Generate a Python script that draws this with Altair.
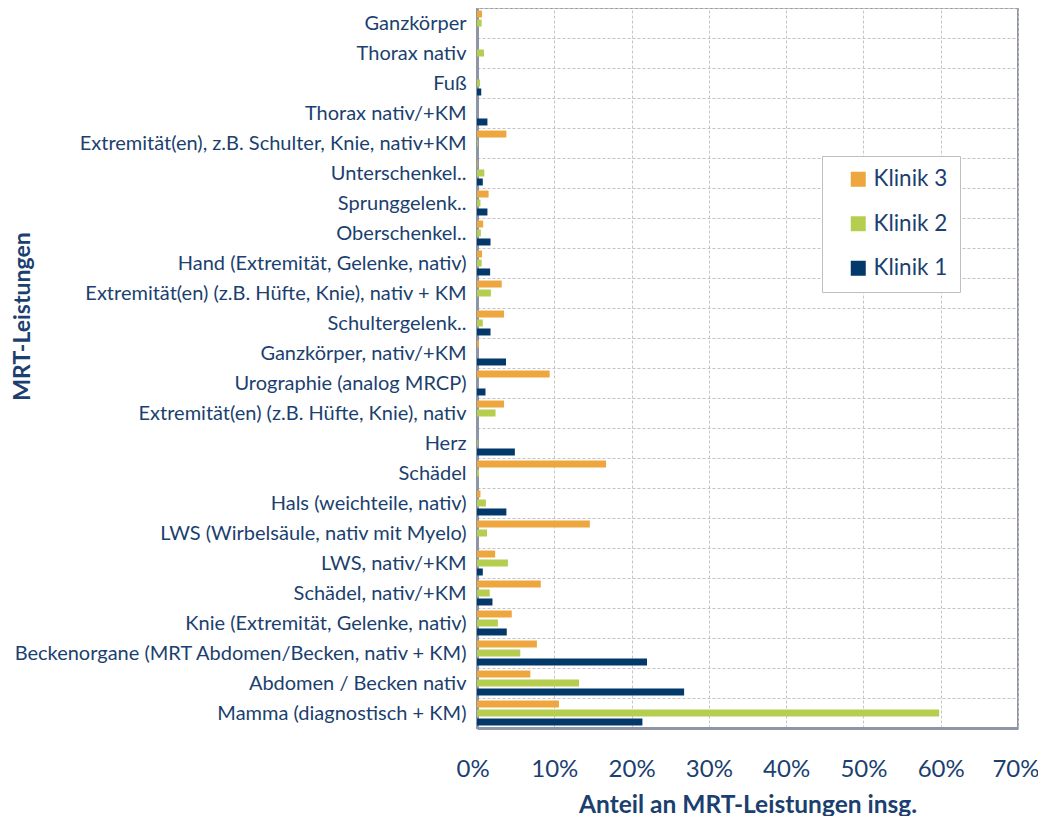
import altair as alt
import pandas as pd

categories = [
    "Ganzkörper",
    "Thorax nativ",
    "Fuß",
    "Thorax nativ/+KM",
    "Extremität(en), z.B. Schulter, Knie, nativ+KM",
    "Unterschenkel..",
    "Sprunggelenk..",
    "Oberschenkel..",
    "Hand (Extremität, Gelenke, nativ)",
    "Extremität(en) (z.B. Hüfte, Knie), nativ + KM",
    "Schultergelenk..",
    "Ganzkörper, nativ/+KM",
    "Urographie (analog MRCP)",
    "Extremität(en) (z.B. Hüfte, Knie), nativ",
    "Herz",
    "Schädel",
    "Hals (weichteile, nativ)",
    "LWS (Wirbelsäule, nativ mit Myelo)",
    "LWS, nativ/+KM",
    "Schädel, nativ/+KM",
    "Knie (Extremität, Gelenke, nativ)",
    "Beckenorgane (MRT Abdomen/Becken, nativ + KM)",
    "Abdomen / Becken nativ",
    "Mamma (diagnostisch + KM)",
]

klinik3 = [0.65, 0.0, 0.0, 0.0, 3.8, 0.1, 1.5, 0.8, 0.65, 3.2, 3.5, 0.25, 9.4, 3.5, 0.0, 16.7,
           0.45, 14.6, 2.35, 8.25, 4.5, 7.75, 6.9, 10.6]
klinik2 = [0.6, 0.9, 0.4, 0.0, 0.1, 0.95, 0.45, 0.5, 0.6, 1.8, 0.75, 0.0, 0.0, 2.4, 0.1, 0.25,
           1.15, 1.3, 4.0, 1.65, 2.7, 5.6, 13.2, 59.8]
klinik1 = [0.0, 0.0, 0.55, 1.35, 0.0, 0.75, 1.35, 1.75, 1.7, 0.0, 1.75, 3.75, 1.1, 0.0, 4.9, 0.0,
           3.8, 0.0, 0.75, 2.0, 3.85, 22.0, 26.8, 21.4]

series = ["Klinik 3", "Klinik 2", "Klinik 1"]
colors = ["#EEA63F", "#B6CE50", "#03386B"]
x_ticks = [0, 10, 20, 30, 40, 50, 60, 70]

rows = []
for i, c in enumerate(categories):
    for s, vals in zip(series, [klinik3, klinik2, klinik1]):
        rows.append({"Leistung": c, "Klinik": s, "Anteil": vals[i] / 100.0})
df = pd.DataFrame(rows)

text_color = "#1B3F6F"
font = "Lato"
nbsp_pad = "\u00a0" * 3

chart = alt.Chart(df).mark_bar().encode(
    y=alt.Y(
        "Leistung:N",
        sort=categories,
        scale=alt.Scale(paddingInner=0, paddingOuter=0),
        axis=alt.Axis(
            title="MRT-Leistungen",
            titleFont=font,
            titleFontSize=23,
            titleFontWeight="bold",
            titleColor=text_color,
            titleAngle=-90,
            titleX=-455,
            titleY=308,
            titleAlign="center",
            titleBaseline="middle",
            labelFont=font,
            labelFontSize=20,
            labelColor=text_color,
            labelLimit=470,
            labelPadding=11,
            ticks=False,
            tickBand="extent",
            grid=True,
            gridColor="#C3C3CB",
            gridDash=[3, 2],
            gridWidth=1,
            domainColor="#8E96A6",
            domainWidth=3,
        ),
    ),
    yOffset=alt.YOffset(
        "Klinik:N",
        sort=series,
        scale=alt.Scale(paddingInner=0.22, paddingOuter=0.28),
    ),
    x=alt.X(
        "Anteil:Q",
        scale=alt.Scale(domain=[0, 0.7], nice=False),
        axis=alt.Axis(
            title="Anteil an MRT-Leistungen insg.",
            titleFont=font,
            titleFontSize=24.5,
            titleFontWeight="bold",
            titleColor=text_color,
            titleY=77,
            titleBaseline="middle",
            values=[v / 100 for v in x_ticks],
            format=".0%",
            labelFont=font,
            labelFontSize=24,
            labelColor=text_color,
            labelPadding=29,
            labelFlush=True,
            labelFlushOffset=21,
            labelOverlap=False,
            ticks=False,
            grid=True,
            gridColor="#C8C4C4",
            gridDash=[3, 2],
            gridWidth=1,
            domainColor="#8E96A6",
            domainWidth=3,
        ),
    ),
    color=alt.Color(
        "Klinik:N",
        scale=alt.Scale(domain=series, range=colors),
        legend=alt.Legend(
            title=None,
            orient="none",
            legendX=345,
            legendY=148,
            labelFont=font,
            labelFontSize=22.5,
            labelColor=text_color,
            labelExpr="datum.label + '" + nbsp_pad + "'",
            symbolType="square",
            symbolSize=225,
            symbolStrokeWidth=0,
            rowPadding=21.5,
            padding=12,
            symbolOffset=13,
            labelOffset=4,
            strokeColor="#BFBFBF",
            fillColor="white",
        ),
    ),
).properties(
    width=541,
    height=720,
    autosize=alt.AutoSizeParams(type="none"),
    padding={"left": 469, "top": 0, "right": 20, "bottom": 88},
).configure_view(
    stroke="#8E96A6",
    strokeWidth=2,
)

chart.save("out.html", embed_options={"renderer": "svg", "actions": False})
